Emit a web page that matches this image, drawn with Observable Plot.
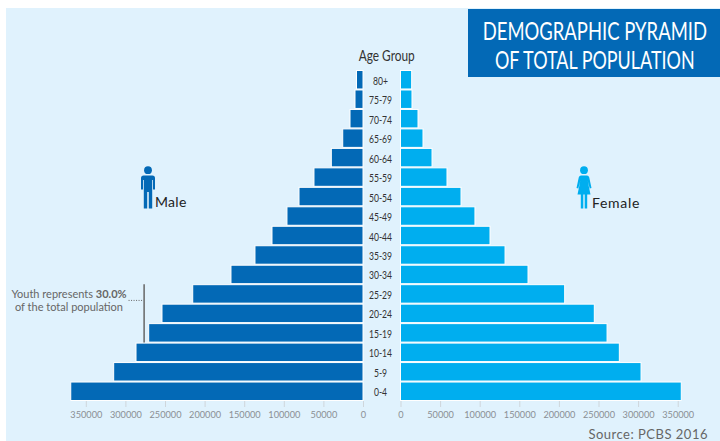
<!DOCTYPE html>
<html>
<head>
<meta charset="utf-8">
<script src="https://cdn.jsdelivr.net/npm/d3@7"></script>
<script src="https://cdn.jsdelivr.net/npm/@observablehq/plot@0.6"></script>
<style>
html,body{margin:0;padding:0;background:#fff;}
#stage{position:relative;width:720px;height:441px;overflow:hidden;font-family:Lato,sans-serif;}
#bg{position:absolute;left:6px;top:8px;width:714px;height:433px;background:#e0f2fd;}
#left,#right{position:absolute;top:0;}
#left{left:0;} #right{left:380px;}
.abs{position:absolute;white-space:nowrap;}
svg.icon{position:absolute;}
#title{position:absolute;left:468px;top:9px;width:252px;height:68px;background:#0369b6;}
#title span{position:absolute;left:50%;color:#fff;font:24.500px/30px Lato,sans-serif;white-space:nowrap;transform-origin:center;}
</style>
</head>
<body>
<div id="stage">
  <div id="bg"></div>
  <div id="left"></div>
  <div id="right"></div>
  <div id="title">
    <span id="t1" style="top:7px">DEMOGRAPHIC PYRAMID</span>
    <span id="t2" style="top:36px">OF TOTAL POPULATION</span>
  </div>
  <svg class="abs" style="left:350px;top:44px" width="80" height="24">
    <text x="8.700" y="17" font-family="Lato,sans-serif" font-size="15" fill="#333" textLength="56" lengthAdjust="spacingAndGlyphs">Age Group</text>
  </svg>
  <svg class="icon" style="left:140px;top:166px" width="16" height="43" viewBox="0 0 16 43">
    <circle cx="8" cy="4.200" r="3.900" fill="#0369b6"/>
    <path d="M3.600 9.500h8.800q2.600 0 2.600 2.800v11.200h-2V14h-.8v28.500h-3.400V26h-1.600v16.500H3.800V14H3v9.500H1V12.300q0-2.800 2.600-2.800z" fill="#0369b6"/>
  </svg>
  <div class="abs" style="left:155px;top:193px;font:14px/17px Lato,sans-serif;letter-spacing:.3px;color:#222">Male</div>
  <svg class="icon" style="left:576px;top:166px" width="16" height="43" viewBox="0 0 16 43">
    <circle cx="8" cy="4.200" r="3.900" fill="#00aeef"/>
    <path d="M5 9.500h6q1.600 0 2.200 1.800L15.500 22l-1.800.6-2-7.500 2.800 13.500H1.500l2.800-13.500-2 7.500L.5 22l2.300-10.700Q3.400 9.500 5 9.500z" fill="#00aeef"/>
    <rect x="4.800" y="28" width="2.500" height="14.500" fill="#00aeef"/>
    <rect x="8.700" y="28" width="2.500" height="14.500" fill="#00aeef"/>
  </svg>
  <div class="abs" style="left:592px;top:194px;font:14px/17px Lato,sans-serif;letter-spacing:.7px;color:#222">Female</div>
  <div class="abs" style="left:10px;top:287px;width:118px;font:11px/13px Lato,sans-serif;color:#666;text-align:center">Youth represents <b>30.0%</b><br>of the total population</div>
  <div class="abs" style="right:12px;top:426px;font:13px/16px Lato,sans-serif;letter-spacing:.5px;color:#666">Source: PCBS 2016</div>
</div>
<script>
const ages = ["80+","75-79","70-74","65-69","60-64","55-59","50-54","45-49","40-44","35-39","30-34","25-29","20-24","15-19","10-14","5-9","0-4"];
const male = [8200,10100,16400,25600,40000,61900,80800,96000,114900,136400,166700,215000,253800,270600,286600,314800,369000];
const female = [14100,14500,22100,28400,39800,58700,76400,94000,113000,132000,161000,207300,244700,260800,276300,303700,354500];
const ticksX = [0,50000,100000,150000,200000,250000,300000,350000];
const youthSpan = [{from:"25-29",to:"15-19"}];
const youthRuleValue = 277000;
const youthLeaderFrom = 296000;

const rowsM = ages.map((age,i)=>({age,value:male[i]}));
const rowsF = ages.map((age,i)=>({age,value:female[i]}));
const font = "Lato, sans-serif";
const yScale = {domain:ages,padding:0,round:false,axis:null};
const axisX = ()=>Plot.axisX(ticksX,{anchor:"bottom",label:null,tickSize:6,tickPadding:4,stroke:"#cfd6db",fill:"#8a8f94",fontSize:9.200,tickFormat:d=>String(d)});

const left = Plot.plot({
  width:400,height:441,marginLeft:0,marginRight:37,marginTop:70,marginBottom:40,
  style:{background:"transparent",fontFamily:font},
  x:{domain:[0,458333],reverse:true},
  y:yScale,
  marks:[
    Plot.barX(rowsM,{x:"value",y:"age",fill:"#0369b6",stroke:"#fff",strokeWidth:1,insetTop:.5,insetBottom:.5}),
    axisX(),
    Plot.axisY({anchor:"right",tickSize:0,tickPadding:17,dy:1,textAnchor:"middle",label:null,fontSize:11,fill:"#333"}),
    Plot.ruleX(youthSpan,{x:()=>youthRuleValue,y1:"from",y2:"to",stroke:"#666",strokeWidth:1.500}),
    Plot.ruleY(["25-29"],{x1:youthLeaderFrom,x2:youthRuleValue,y:d=>d,dy:6,stroke:"#666",strokeWidth:1,strokeDasharray:"1 1.500"})
  ]
});
document.getElementById("left").append(left);
// the reference sets the age labels in a condensed face
d3.select(left).selectAll('g[aria-label="y-axis tick label"] text').each(function(){
  const t = this.getAttribute("transform") || "";
  this.setAttribute("transform", t + " scale(.78,1)");
});

const right = Plot.plot({
  width:340,height:441,marginLeft:20.500,marginRight:0,marginTop:70,marginBottom:40,
  style:{background:"transparent",fontFamily:font},
  x:{domain:[0,403400]},
  y:yScale,
  marks:[
    Plot.barX(rowsF,{x:"value",y:"age",fill:"#00aeef",stroke:"#fff",strokeWidth:1,insetTop:.5,insetBottom:.5}),
    axisX()
  ]
});
document.getElementById("right").append(right);

// the title is set condensed: squeeze each line to the width it has in the reference
[["t1",224.5,1],["t2",200,1]].forEach(([id,w,shift])=>{
  const s = document.getElementById(id);
  const natural = s.offsetWidth;
  s.style.transform = `translateX(${-natural/2+shift}px) scaleX(${w/natural})`;
});
</script>
</body>
</html>
